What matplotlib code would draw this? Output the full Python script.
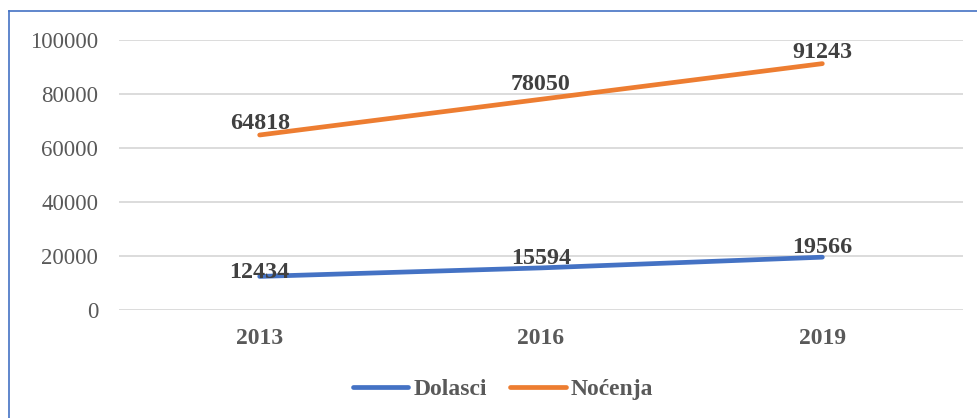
import matplotlib
matplotlib.use("Agg")
import matplotlib.pyplot as plt
from matplotlib.lines import Line2D

years = ["2013", "2016", "2019"]
dolasci = [12434, 15594, 19566]
nocenja = [64818, 78050, 91243]
series_names = ["Dolasci", "Noćenja"]
yticks = [0, 20000, 40000, 60000, 80000, 100000]

plt.rcParams['font.family'] = ['Liberation Serif', 'DejaVu Serif']

W, H = 977, 418
fig = plt.figure(figsize=(W / 100, H / 100), dpi=100)
ax = fig.add_axes([119 / W, 1 - 310 / H, (963 - 119) / W, (310 - 40) / H])

blue = "#4472C4"
orange = "#ED7D31"
gray = "#595959"

x = list(range(len(years)))
ax.plot(x, dolasci, color=blue, lw=3.4, solid_capstyle='round', label=series_names[0], zorder=3)
ax.plot(x, nocenja, color=orange, lw=3.4, solid_capstyle='round', label=series_names[1], zorder=3)

ax.set_xlim(-0.5, len(years) - 0.5)
ax.set_ylim(0, 100000)
ax.set_yticks(yticks)
ax.set_yticklabels([str(v) for v in yticks])
ax.set_xticks(x)
ax.set_xticklabels(years, fontweight='bold')
ax.tick_params(axis='y', length=0, pad=15, labelsize=16.5, labelcolor=gray)
ax.tick_params(axis='x', length=0, pad=13, labelsize=17, labelcolor=gray)
ax.grid(axis='y', color='#D9D9D9', lw=1.3)
ax.set_axisbelow(True)
for s in ax.spines.values():
    s.set_visible(False)

# data labels (baseline offset in pixels above the point)
off_d = [-2, 4, 4]
off_n = [6, 9, 6]
for xi, v, o in zip(x, dolasci, off_d):
    ax.annotate(str(v), (xi, v), xytext=(0, o), textcoords='offset pixels',
                ha='center', va='baseline', fontsize=17.3, fontweight='bold',
                color='#404040', zorder=4)
for xi, v, o in zip(x, nocenja, off_n):
    ax.annotate(str(v), (xi, v), xytext=(0, o), textcoords='offset pixels',
                ha='center', va='baseline', fontsize=17.3, fontweight='bold',
                color='#404040', zorder=4)

leg = fig.legend(handles=ax.get_lines(), loc='center', bbox_to_anchor=(503 / W, 1 - 389 / H),
                 ncol=2, frameon=False, prop={'size': 17, 'weight': 'bold'},
                 handlelength=2.35, handletextpad=0.2, columnspacing=1.0)
for t in leg.get_texts():
    t.set_color(gray)

# outer blue border (top and left)
fig.add_artist(Line2D([9 / W, 9 / W], [0, 1 - 11 / H], transform=fig.transFigure, color=blue, lw=1.2))
fig.add_artist(Line2D([9 / W, 1], [1 - 11 / H, 1 - 11 / H], transform=fig.transFigure, color=blue, lw=1.2))

fig.savefig("out.png", dpi=100)
